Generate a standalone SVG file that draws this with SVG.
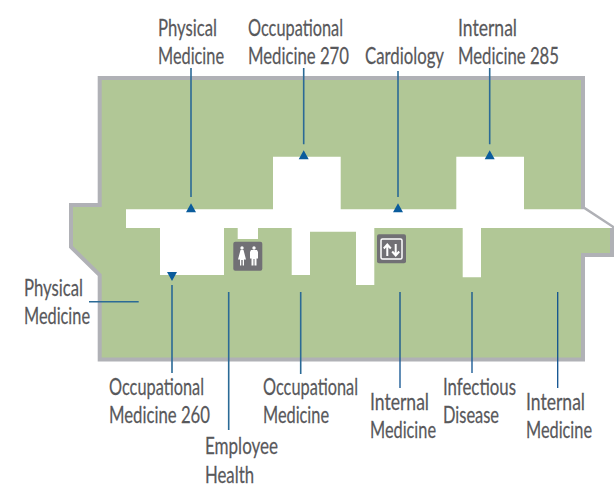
<svg xmlns="http://www.w3.org/2000/svg" width="614" height="488" viewBox="0 0 614 488">
<style>
.t{font-family:Lato,"Liberation Sans",sans-serif;font-size:24px;fill:#58585b;stroke:#58585b;stroke-width:.25}
.l{stroke:#2b6a96;stroke-width:1.6;fill:none}
.d{stroke:#0f5290;stroke-width:1.300;fill:none}
.a{fill:#0a5c9c}
</style>
<rect width="614" height="488" fill="#fff"/>
<g id="floor">
<path d="M99.700 78H583V208L612 227V255H583V359.500H99.700V275L71 247V205H99.700Z" fill="#b1c796" stroke="#b0b1b6" stroke-width="4"/>
<path d="M126 209.300H273V156.700H340.700V209.300H456.300V156.700H524V209.300H584L612 227.500V228H481V277.300H462.700V228H374.300V285H356V231.700H310V275H291.700V228H258V239H237.700V228H224V275H160V228H126Z" fill="#fff"/>
</g>
<g id="restroom-icon">
<rect x="233.300" y="241.700" width="29" height="29" rx="2" fill="#717075"/>
<g fill="#fff">
<circle cx="242" cy="248" r="1.700"/><path d="M240.500 250H243.500L246 259.500H244V265.500H242.700V260H241.300V265.500H240V259.500H238Z"/>
<circle cx="254" cy="248" r="1.700"/><path d="M251 250H257L258 252V258.500H256.500V265.500H254.500V259H253.500V265.500H251.500V258.500H250V252Z"/>
</g>
</g>
<g id="elevator-icon">
<rect x="377" y="234.300" width="29" height="29" rx="2" fill="#717075"/>
<rect x="381" y="239" width="21" height="20" rx="1.500" fill="none" stroke="#fff" stroke-width="1.500"/>
<path d="M387.300 256V245M383.800 248.500L387.300 244.500L390.800 248.500M395.700 244V255M392.200 251.500L395.700 255.500L399.200 251.500" fill="none" stroke="#fff" stroke-width="2"/>
</g>
<g id="connectors">
<path class="l" d="M191 68V197M303.700 68V144.300M398 71V197M489.700 68V144.300M172 285V373M228.700 292V430M300.700 292V374M89 301.700H138.700"/>
<path class="d" d="M400 292V388M472 292V373M557.700 292V388"/>
<path class="a" d="M191 203.300L196 212.300H186ZM303.700 150.300L308.700 159.300H298.700ZM398 203.300L403 212.300H393ZM489.700 150.300L494.700 159.300H484.700ZM172 281L167 272H177Z"/>
</g>
<g id="labels">
<g id="label-physical-top"><text class="t" transform="translate(158 36) scale(.8 1)" textLength="73.750" lengthAdjust="spacingAndGlyphs">Physical</text><text class="t" transform="translate(158 64.300) scale(.8 1)" textLength="82.500" lengthAdjust="spacingAndGlyphs">Medicine</text></g>
<g id="label-occ-270"><text class="t" transform="translate(248 36) scale(.8 1)" textLength="118.750" lengthAdjust="spacingAndGlyphs">Occupational</text><text class="t" transform="translate(248 64.300) scale(.8 1)" textLength="126.250" lengthAdjust="spacingAndGlyphs">Medicine 270</text></g>
<g id="label-cardiology"><text class="t" transform="translate(365 64.300) scale(.8 1)" textLength="98.750" lengthAdjust="spacingAndGlyphs">Cardiology</text></g>
<g id="label-internal-285"><text class="t" transform="translate(458 36) scale(.8 1)" textLength="73.750" lengthAdjust="spacingAndGlyphs">Internal</text><text class="t" transform="translate(458 64.300) scale(.8 1)" textLength="126.250" lengthAdjust="spacingAndGlyphs">Medicine 285</text></g>
<g id="label-physical-left"><text class="t" transform="translate(24 296) scale(.8 1)" textLength="73.750" lengthAdjust="spacingAndGlyphs">Physical</text><text class="t" transform="translate(24 324.300) scale(.8 1)" textLength="82.500" lengthAdjust="spacingAndGlyphs">Medicine</text></g>
<g id="label-occ-260"><text class="t" transform="translate(109 395) scale(.8 1)" textLength="118.750" lengthAdjust="spacingAndGlyphs">Occupational</text><text class="t" transform="translate(109 423.300) scale(.8 1)" textLength="126.250" lengthAdjust="spacingAndGlyphs">Medicine 260</text></g>
<g id="label-employee"><text class="t" transform="translate(205 453.500) scale(.8 1)" textLength="91.250" lengthAdjust="spacingAndGlyphs">Employee</text><text class="t" transform="translate(205 482.500) scale(.8 1)" textLength="61.250" lengthAdjust="spacingAndGlyphs">Health</text></g>
<g id="label-occ"><text class="t" transform="translate(263 395) scale(.8 1)" textLength="118.750" lengthAdjust="spacingAndGlyphs">Occupational</text><text class="t" transform="translate(263 423.300) scale(.8 1)" textLength="82.500" lengthAdjust="spacingAndGlyphs">Medicine</text></g>
<g id="label-internal-1"><text class="t" transform="translate(370 410) scale(.8 1)" textLength="73.750" lengthAdjust="spacingAndGlyphs">Internal</text><text class="t" transform="translate(370 438.300) scale(.8 1)" textLength="82.500" lengthAdjust="spacingAndGlyphs">Medicine</text></g>
<g id="label-infectious"><text class="t" transform="translate(443 395) scale(.8 1)" textLength="91.250" lengthAdjust="spacingAndGlyphs">Infectious</text><text class="t" transform="translate(443 423.300) scale(.8 1)" textLength="70" lengthAdjust="spacingAndGlyphs">Disease</text></g>
<g id="label-internal-2"><text class="t" transform="translate(526 410) scale(.8 1)" textLength="73.750" lengthAdjust="spacingAndGlyphs">Internal</text><text class="t" transform="translate(526 438.300) scale(.8 1)" textLength="82.500" lengthAdjust="spacingAndGlyphs">Medicine</text></g>
</g>
</svg>
